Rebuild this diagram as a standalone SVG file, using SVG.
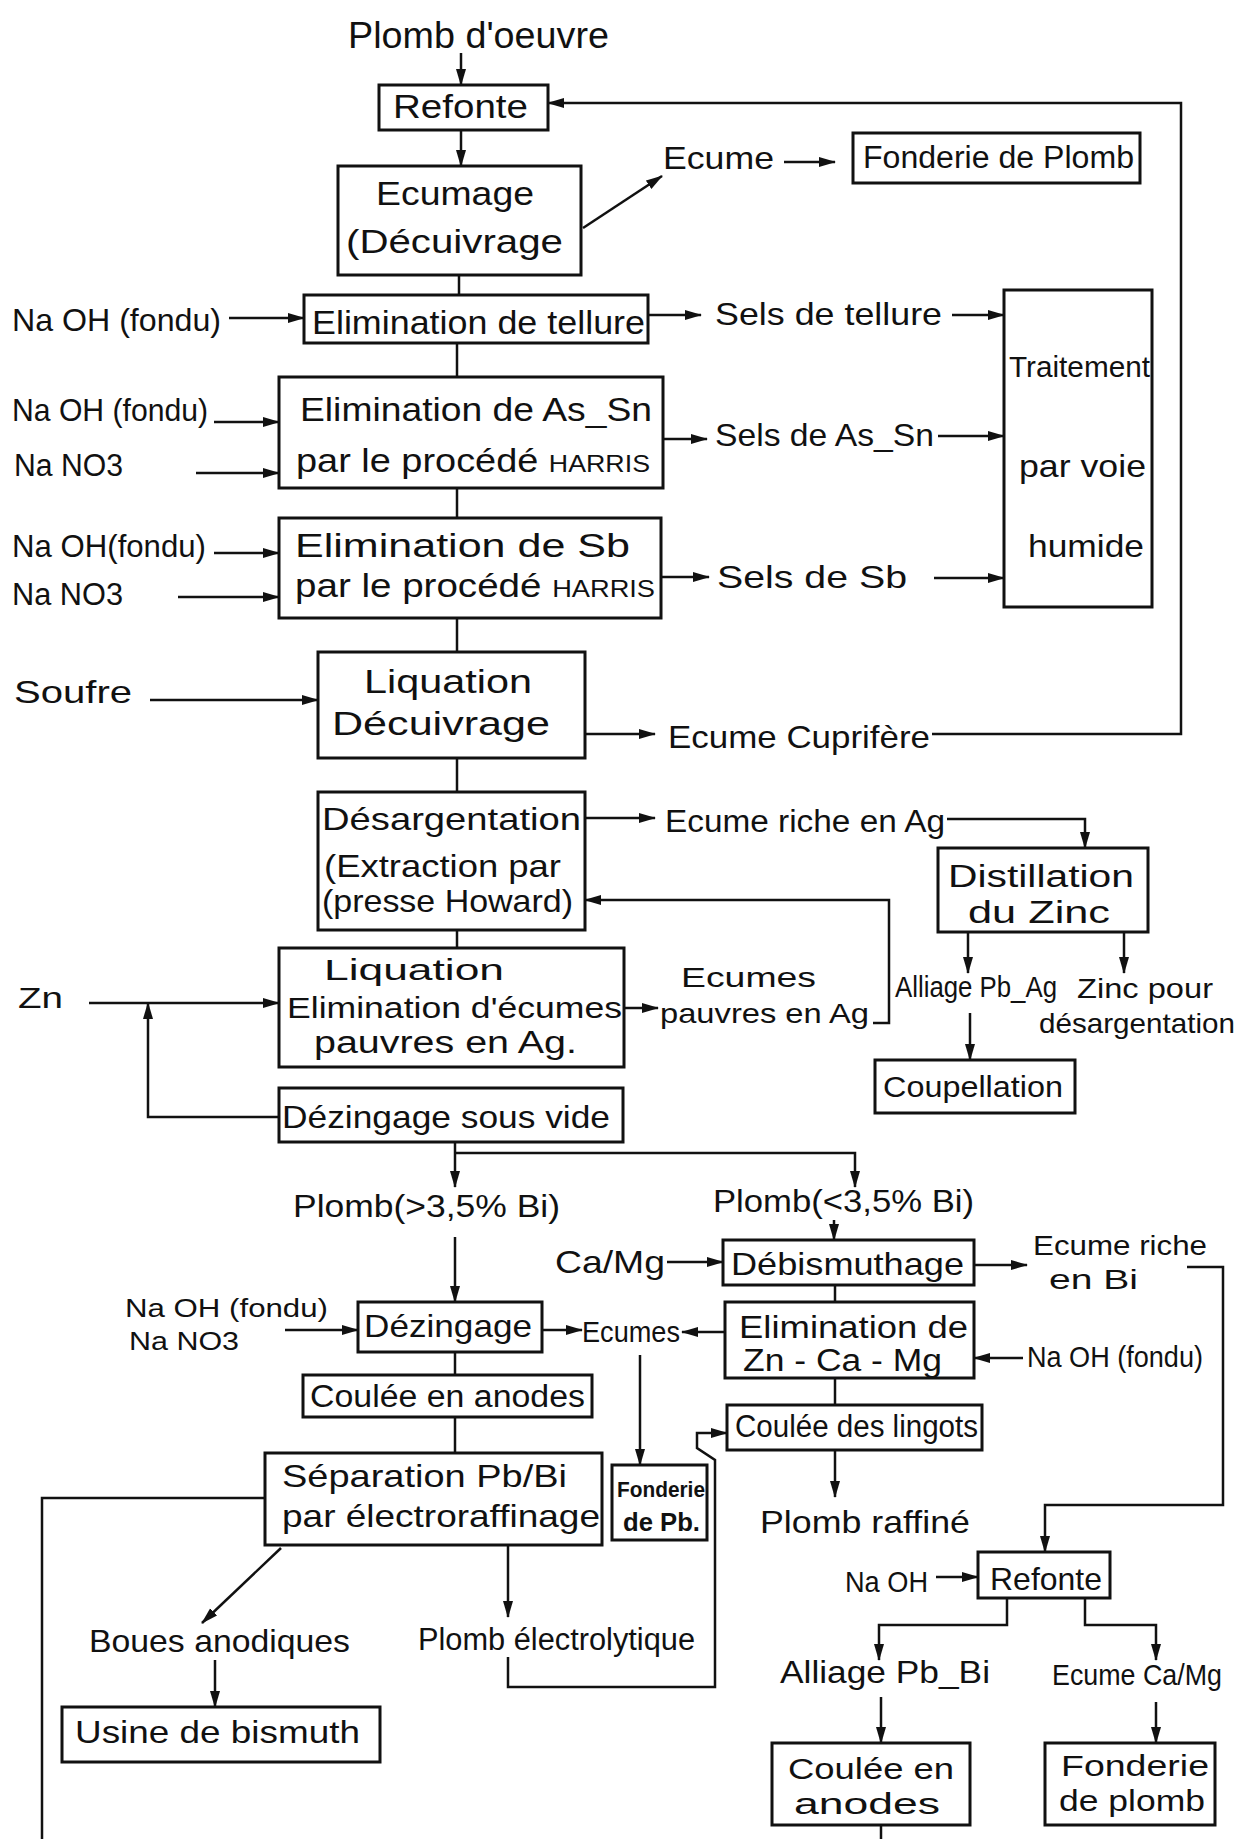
<svg xmlns="http://www.w3.org/2000/svg" width="1241" height="1839" viewBox="0 0 1241 1839">
<defs>
<style>
text{font-family:"Liberation Sans",Arial,sans-serif;fill:#111}
.box{fill:none;stroke:#111;stroke-width:3}
.ln{fill:none;stroke:#111;stroke-width:2.5}
.ar{marker-end:url(#ah)}
.b{font-weight:bold}
</style>
<marker id="ah" markerUnits="userSpaceOnUse" markerWidth="18" markerHeight="12" refX="16" refY="6" orient="auto"><path d="M0,1 L17,6 L0,11 z" fill="#111"/></marker>
</defs>
<rect width="1241" height="1839" fill="#fff"/>

<g id="connectors">
<path class="ln ar" d="M461,53 V85"/>
<path class="ln ar" d="M461,130 V166"/>
<path class="ln ar" d="M583,228 L662,176"/>
<path class="ln ar" d="M784,162 H835"/>
<path class="ln" d="M459,275 V295"/>
<path class="ln ar" d="M229,318 H304"/>
<path class="ln ar" d="M648,315 H701"/>
<path class="ln ar" d="M952,315 H1004"/>
<path class="ln" d="M457,343 V377"/>
<path class="ln ar" d="M214,422 H279"/>
<path class="ln ar" d="M196,473 H279"/>
<path class="ln ar" d="M663,439 H707"/>
<path class="ln ar" d="M938,436 H1004"/>
<path class="ln" d="M457,488 V518"/>
<path class="ln ar" d="M214,553 H279"/>
<path class="ln ar" d="M178,597 H279"/>
<path class="ln ar" d="M661,577 H709"/>
<path class="ln ar" d="M934,578 H1004"/>
<path class="ln" d="M457,618 V652"/>
<path class="ln ar" d="M150,700 H318"/>
<path class="ln ar" d="M585,734 H655"/>
<path class="ln ar" d="M932,734 H1181 V103 H548"/>
<path class="ln" d="M457,758 V792"/>
<path class="ln ar" d="M585,818 H655"/>
<path class="ln ar" d="M947,819 H1085 V848"/>
<path class="ln" d="M457,930 V948"/>
<path class="ln ar" d="M89,1003 H279"/>
<path class="ln ar" d="M279,1117 H148 V1003"/>
<path class="ln ar" d="M624,1008 H658"/>
<path class="ln ar" d="M873,1023 H889 V900 H585"/>
<path class="ln ar" d="M968,932 V973"/>
<path class="ln ar" d="M1124,932 V973"/>
<path class="ln ar" d="M970,1013 V1060"/>
<path class="ln ar" d="M455,1142 V1187"/>
<path class="ln ar" d="M455,1153 H855 V1187"/>
<path class="ln ar" d="M455,1237 V1302"/>
<path class="ln ar" d="M834,1220 V1240"/>
<path class="ln ar" d="M667,1262 H723"/>
<path class="ln ar" d="M974,1265 H1027"/>
<path class="ln ar" d="M1187,1267 H1223 V1505 H1045 V1552"/>
<path class="ln" d="M835,1285 V1302"/>
<path class="ln ar" d="M1023,1358 H974"/>
<path class="ln ar" d="M725,1332 H682"/>
<path class="ln ar" d="M285,1330 H358"/>
<path class="ln ar" d="M542,1330 H582"/>
<path class="ln ar" d="M640,1355 V1465"/>
<path class="ln" d="M455,1352 V1375"/>
<path class="ln" d="M835,1378 V1405"/>
<path class="ln" d="M455,1417 V1453"/>
<path class="ln ar" d="M508,1545 V1617"/>
<path class="ln ar" d="M508,1657 V1687 H715 V1460 L697,1448 V1433 H727"/>
<path class="ln ar" d="M281,1548 L202,1623"/>
<path class="ln ar" d="M215,1660 V1707"/>
<path class="ln" d="M265,1498 H42 V1839"/>
<path class="ln ar" d="M835,1450 V1497"/>
<path class="ln ar" d="M936,1577 H978"/>
<path class="ln ar" d="M1007,1598 V1625 H879 V1660"/>
<path class="ln ar" d="M1085,1598 V1625 H1156 V1660"/>
<path class="ln ar" d="M881,1697 V1743"/>
<path class="ln ar" d="M1156,1702 V1743"/>
<path class="ln" d="M881,1825 V1839"/>
</g>

<g id="plomb-oeuvre"><text x="348" y="48" font-size="36" textLength="261" lengthAdjust="spacingAndGlyphs">Plomb d'oeuvre</text></g>
<g id="refonte"><rect class="box" x="379" y="85" width="169" height="45"/><text x="393" y="118" font-size="33" textLength="135" lengthAdjust="spacingAndGlyphs">Refonte</text></g>
<g id="ecumage"><rect class="box" x="338" y="166" width="243" height="109"/><text x="376" y="205" font-size="33" textLength="158" lengthAdjust="spacingAndGlyphs">Ecumage</text><text x="346" y="253" font-size="34" textLength="217" lengthAdjust="spacingAndGlyphs">(Décuivrage</text></g>
<g id="ecume"><text x="663" y="169" font-size="32" textLength="111" lengthAdjust="spacingAndGlyphs">Ecume</text></g>
<g id="fonderie-plomb"><rect class="box" x="853" y="133" width="287" height="50"/><text x="863" y="168" font-size="31" textLength="271" lengthAdjust="spacingAndGlyphs">Fonderie de Plomb</text></g>
<g id="tellure"><rect class="box" x="304" y="295" width="344" height="48"/><text x="312" y="334" font-size="33" textLength="333" lengthAdjust="spacingAndGlyphs">Elimination de tellure</text></g>
<g id="naoh1"><text x="12" y="331" font-size="32" textLength="209" lengthAdjust="spacingAndGlyphs">Na OH (fondu)</text></g>
<g id="sels-tellure"><text x="715" y="325" font-size="32" textLength="227" lengthAdjust="spacingAndGlyphs">Sels de tellure</text></g>
<g id="traitement"><rect class="box" x="1004" y="290" width="148" height="317"/><text x="1009" y="377" font-size="29" textLength="141" lengthAdjust="spacingAndGlyphs">Traitement</text><text x="1019" y="477" font-size="32" textLength="127" lengthAdjust="spacingAndGlyphs">par voie</text><text x="1028" y="557" font-size="32" textLength="116" lengthAdjust="spacingAndGlyphs">humide</text></g>
<g id="as-sn"><rect class="box" x="279" y="377" width="384" height="111"/><text x="300" y="421" font-size="34" textLength="352" lengthAdjust="spacingAndGlyphs">Elimination de As_Sn</text><text x="296" y="472" font-size="34" textLength="354" lengthAdjust="spacingAndGlyphs">par le procédé <tspan font-size="24">HARRIS</tspan></text></g>
<g id="naoh2"><text x="12" y="421" font-size="32" textLength="196" lengthAdjust="spacingAndGlyphs">Na OH (fondu)</text></g>
<g id="nano3-1"><text x="14" y="476" font-size="31" textLength="109" lengthAdjust="spacingAndGlyphs">Na NO3</text></g>
<g id="sels-assn"><text x="715" y="446" font-size="32" textLength="219" lengthAdjust="spacingAndGlyphs">Sels de As_Sn</text></g>
<g id="sb"><rect class="box" x="279" y="518" width="382" height="100"/><text x="295" y="557" font-size="33" textLength="335" lengthAdjust="spacingAndGlyphs">Elimination  de  Sb</text><text x="295" y="597" font-size="34" textLength="360" lengthAdjust="spacingAndGlyphs">par le procédé <tspan font-size="24">HARRIS</tspan></text></g>
<g id="naoh3"><text x="12" y="557" font-size="32" textLength="194" lengthAdjust="spacingAndGlyphs">Na OH(fondu)</text></g>
<g id="nano3-2"><text x="12" y="605" font-size="31" textLength="111" lengthAdjust="spacingAndGlyphs">Na NO3</text></g>
<g id="sels-sb"><text x="717" y="588" font-size="32" textLength="190" lengthAdjust="spacingAndGlyphs">Sels de Sb</text></g>
<g id="soufre"><text x="14" y="703" font-size="32" textLength="118" lengthAdjust="spacingAndGlyphs">Soufre</text></g>
<g id="liquation1"><rect class="box" x="318" y="652" width="267" height="106"/><text x="364" y="693" font-size="33" textLength="168" lengthAdjust="spacingAndGlyphs">Liquation</text><text x="332" y="735" font-size="34" textLength="218" lengthAdjust="spacingAndGlyphs">Décuivrage</text></g>
<g id="ecume-cuprifere"><text x="668" y="748" font-size="32" textLength="262" lengthAdjust="spacingAndGlyphs">Ecume Cuprifère</text></g>
<g id="desargentation"><rect class="box" x="318" y="792" width="267" height="138"/><text x="322" y="830" font-size="32" textLength="259" lengthAdjust="spacingAndGlyphs">Désargentation</text><text x="324" y="877" font-size="32" textLength="237" lengthAdjust="spacingAndGlyphs">(Extraction par</text><text x="322" y="912" font-size="32" textLength="251" lengthAdjust="spacingAndGlyphs">(presse Howard)</text></g>
<g id="ecume-riche-ag"><text x="665" y="832" font-size="31" textLength="280" lengthAdjust="spacingAndGlyphs">Ecume riche en Ag</text></g>
<g id="distillation"><rect class="box" x="938" y="848" width="210" height="84"/><text x="948" y="887" font-size="31" textLength="186" lengthAdjust="spacingAndGlyphs">Distillation</text><text x="968" y="923" font-size="31" textLength="142" lengthAdjust="spacingAndGlyphs">du Zinc</text></g>
<g id="liquation2"><rect class="box" x="279" y="948" width="345" height="119"/><text x="324" y="980" font-size="30" textLength="180" lengthAdjust="spacingAndGlyphs">Liquation</text><text x="287" y="1018" font-size="30" textLength="335" lengthAdjust="spacingAndGlyphs">Elimination d'écumes</text><text x="314" y="1053" font-size="31" textLength="263" lengthAdjust="spacingAndGlyphs">pauvres en Ag.</text></g>
<g id="zn"><text x="18" y="1008" font-size="30" textLength="45" lengthAdjust="spacingAndGlyphs">Zn</text></g>
<g id="ecumes-pauvres"><text x="681" y="987" font-size="28" textLength="135" lengthAdjust="spacingAndGlyphs">Ecumes</text><text x="660" y="1023" font-size="28" textLength="209" lengthAdjust="spacingAndGlyphs">pauvres en Ag</text></g>
<g id="alliage-pbag"><text x="895" y="997" font-size="29" textLength="162" lengthAdjust="spacingAndGlyphs">Alliage Pb_Ag</text></g>
<g id="zinc-pour"><text x="1077" y="998" font-size="28" textLength="136" lengthAdjust="spacingAndGlyphs">Zinc pour</text><text x="1039" y="1033" font-size="28" textLength="196" lengthAdjust="spacingAndGlyphs">désargentation</text></g>
<g id="coupellation"><rect class="box" x="875" y="1060" width="200" height="53"/><text x="883" y="1097" font-size="30" textLength="180" lengthAdjust="spacingAndGlyphs">Coupellation</text></g>
<g id="dezingage-vide"><rect class="box" x="279" y="1088" width="344" height="54"/><text x="282" y="1128" font-size="32" textLength="328" lengthAdjust="spacingAndGlyphs">Dézingage sous vide</text></g>
<g id="plomb-sup"><text x="293" y="1217" font-size="32" textLength="267" lengthAdjust="spacingAndGlyphs">Plomb(&gt;3,5% Bi)</text></g>
<g id="plomb-inf"><text x="713" y="1212" font-size="32" textLength="261" lengthAdjust="spacingAndGlyphs">Plomb(&lt;3,5% Bi)</text></g>
<g id="camg"><text x="555" y="1273" font-size="32" textLength="110" lengthAdjust="spacingAndGlyphs">Ca/Mg</text></g>
<g id="debismuthage"><rect class="box" x="723" y="1240" width="251" height="45"/><text x="731" y="1275" font-size="32" textLength="233" lengthAdjust="spacingAndGlyphs">Débismuthage</text></g>
<g id="ecume-riche-bi"><text x="1033" y="1255" font-size="28" textLength="174" lengthAdjust="spacingAndGlyphs">Ecume riche</text><text x="1049" y="1289" font-size="28" textLength="89" lengthAdjust="spacingAndGlyphs">en Bi</text></g>
<g id="naoh-4"><text x="125" y="1317" font-size="26" textLength="203" lengthAdjust="spacingAndGlyphs">Na OH (fondu)</text></g>
<g id="nano3-4"><text x="129" y="1350" font-size="26" textLength="110" lengthAdjust="spacingAndGlyphs">Na NO3</text></g>
<g id="dezingage"><rect class="box" x="358" y="1302" width="184" height="50"/><text x="364" y="1337" font-size="32" textLength="168" lengthAdjust="spacingAndGlyphs">Dézingage</text></g>
<g id="ecumes2"><text x="582" y="1342" font-size="30" textLength="98" lengthAdjust="spacingAndGlyphs">Ecumes</text></g>
<g id="elim-zncamg"><rect class="box" x="725" y="1302" width="249" height="76"/><text x="739" y="1338" font-size="31" textLength="229" lengthAdjust="spacingAndGlyphs">Elimination de</text><text x="743" y="1371" font-size="31" textLength="199" lengthAdjust="spacingAndGlyphs">Zn - Ca - Mg</text></g>
<g id="naoh5"><text x="1027" y="1367" font-size="29" textLength="176" lengthAdjust="spacingAndGlyphs">Na OH (fondu)</text></g>
<g id="coulee-anodes1"><rect class="box" x="303" y="1375" width="289" height="42"/><text x="310" y="1407" font-size="31" textLength="275" lengthAdjust="spacingAndGlyphs">Coulée en anodes</text></g>
<g id="coulee-lingots"><rect class="box" x="727" y="1405" width="255" height="45"/><text x="735" y="1437" font-size="31" textLength="243" lengthAdjust="spacingAndGlyphs">Coulée des lingots</text></g>
<g id="separation"><rect class="box" x="265" y="1453" width="337" height="92"/><text x="282" y="1487" font-size="32" textLength="285" lengthAdjust="spacingAndGlyphs">Séparation Pb/Bi</text><text x="282" y="1527" font-size="32" textLength="318" lengthAdjust="spacingAndGlyphs">par électroraffinage</text></g>
<g id="fonderie-pb"><rect class="box" x="612" y="1465" width="95" height="75"/><text class="b" x="617" y="1497" font-size="22" textLength="88" lengthAdjust="spacingAndGlyphs">Fonderie</text><text class="b" x="623" y="1531" font-size="25" textLength="77" lengthAdjust="spacingAndGlyphs">de Pb.</text></g>
<g id="plomb-raffine"><text x="760" y="1533" font-size="32" textLength="210" lengthAdjust="spacingAndGlyphs">Plomb raffiné</text></g>
<g id="boues"><text x="89" y="1652" font-size="32" textLength="261" lengthAdjust="spacingAndGlyphs">Boues anodiques</text></g>
<g id="plomb-electro"><text x="418" y="1650" font-size="31" textLength="277" lengthAdjust="spacingAndGlyphs">Plomb électrolytique</text></g>
<g id="usine-bismuth"><rect class="box" x="62" y="1707" width="318" height="55"/><text x="75" y="1743" font-size="32" textLength="285" lengthAdjust="spacingAndGlyphs">Usine de bismuth</text></g>
<g id="naoh6"><text x="845" y="1592" font-size="30" textLength="83" lengthAdjust="spacingAndGlyphs">Na OH</text></g>
<g id="refonte2"><rect class="box" x="978" y="1552" width="132" height="46"/><text x="990" y="1590" font-size="32" textLength="112" lengthAdjust="spacingAndGlyphs">Refonte</text></g>
<g id="alliage-pbbi"><text x="780" y="1683" font-size="32" textLength="210" lengthAdjust="spacingAndGlyphs">Alliage Pb_Bi</text></g>
<g id="ecume-camg"><text x="1052" y="1685" font-size="29" textLength="170" lengthAdjust="spacingAndGlyphs">Ecume Ca/Mg</text></g>
<g id="coulee-anodes2"><rect class="box" x="772" y="1743" width="198" height="82"/><text x="788" y="1779" font-size="30" textLength="166" lengthAdjust="spacingAndGlyphs">Coulée en</text><text x="794" y="1814" font-size="30" textLength="146" lengthAdjust="spacingAndGlyphs">anodes</text></g>
<g id="fonderie-plomb2"><rect class="box" x="1045" y="1743" width="170" height="82"/><text x="1061" y="1776" font-size="29" textLength="148" lengthAdjust="spacingAndGlyphs">Fonderie</text><text x="1059" y="1811" font-size="29" textLength="146" lengthAdjust="spacingAndGlyphs">de plomb</text></g>
</svg>
